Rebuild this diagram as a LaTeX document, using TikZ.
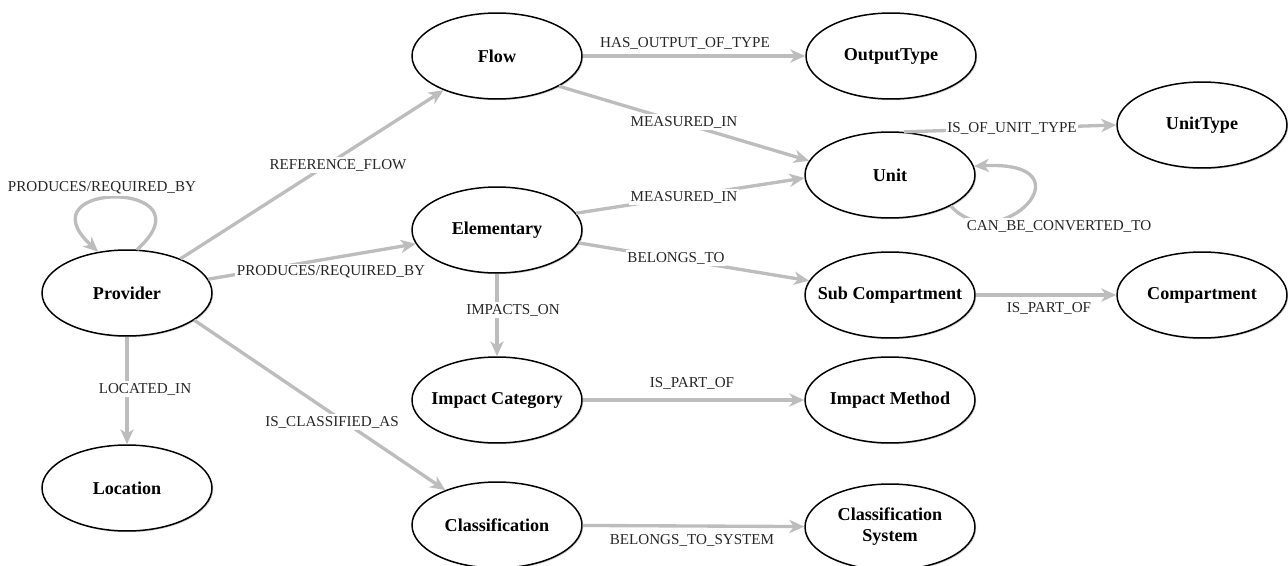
\documentclass[tikz,border=0pt]{standalone}
\usepackage{fontspec}
\setmainfont{Liberation Serif}
\usetikzlibrary{arrows.meta,shapes.geometric,shadows}
\tikzset{
	entnode/.style={ellipse, draw=black, line width=0.85pt, fill=white, minimum width=3.4cm, minimum height=1.72cm, inner xsep=-8pt, inner ysep=0pt, align=center, font=\fontsize{10.3}{12}\selectfont\bfseries, drop shadow={shadow xshift=0.7pt, shadow yshift=-0.7pt, opacity=0.3, fill=black!60}},
	reledge/.style={draw=black!26, line width=1.9pt, -{Stealth[length=8.5pt,width=7.5pt,inset=2.5pt]}},
	rellabel/.style={fill=white, inner sep=1pt, text=black!85, font=\fontsize{8.6}{10}\selectfont}
}

\begin{document}
\begin{tikzpicture}[x=0.02cm, y=-0.02cm]
	\useasboundingbox (0,0) rectangle (1288,565);
	
	\node[entnode] at (127,293) (Prov)    {Provider};
	\node[entnode] at (127,488) (Loc)     {Location};
	\node[entnode] at (497,56)  (Flow)    {Flow};
	\node[entnode] at (891,56)  (OType)   {OutputType};
	\node[entnode] at (890,175) (Unit)    {Unit};
	\node[entnode] at (1202,125) (UType)  {UnitType};
	\node[entnode] at (497,230) (Elem)    {Elementary};
	\node[entnode] at (890,295) (SubC)    {Sub Compartment};
	\node[entnode] at (1202,295) (Comp)   {Compartment};
	\node[entnode] at (497,400) (ICat)    {Impact Category};
	\node[entnode] at (890,400) (IMeth)   {Impact Method};
	\node[entnode] at (497,525) (Class)   {Classification};
	\node[entnode] at (890,527) (CSys)    {Classification\\System};
	
	\draw[reledge] (Prov.77) .. controls (215,180) and (20,180) .. (Prov.125);
	\draw[reledge] (Prov) -- (Flow);
	\draw[reledge] (Prov) -- (Elem);
	\draw[reledge] (Prov) -- (Loc);
	\draw[reledge] (Prov.-22) -- (Class.146);
	\draw[reledge] (Flow) -- (OType);
	\draw[reledge] (Flow.-26) -- (Unit.170);
	\draw[reledge] (Elem.12) -- (Unit.182);
	\draw[reledge] (Elem.-9) -- (SubC.170);
	\draw[reledge] (Elem) -- (ICat);
	\draw[reledge] (Unit.72) -- (UType.west);
	\draw[reledge] (Unit.-27) .. controls (1000,260) and (1095,160) .. (Unit.6);
	\draw[reledge] (SubC) -- (Comp);
	\draw[reledge] (ICat) -- (IMeth);
	\draw[reledge] (Class) -- (CSys);
	
	\node[rellabel] at (102,188) (l1)  {PRODUCES/REQUIRED\_BY};
	\node[rellabel] at (338,165) (l2)  {REFERENCE\_FLOW};
	\node[rellabel] at (331,272) (l3)  {PRODUCES/REQUIRED\_BY};
	\node[rellabel] at (145,389) (l4)  {LOCATED\_IN};
	\node[rellabel] at (332,422) (l5)  {IS\_CLASSIFIED\_AS};
	\node[rellabel] at (685,43)  (l6)  {HAS\_OUTPUT\_OF\_TYPE};
	\node[rellabel] at (684,122) (l7)  {MEASURED\_IN};
	\node[rellabel] at (684,197) (l8)  {MEASURED\_IN};
	\node[rellabel] at (676,258) (l9)  {BELONGS\_TO};
	\node[rellabel] at (513,310) (l10) {IMPACTS\_ON};
	\node[rellabel] at (1012,128) (l11) {IS\_OF\_UNIT\_TYPE};
	\node[rellabel] at (1059,226) (l12) {CAN\_BE\_CONVERTED\_TO};
	\node[rellabel] at (1049,308) (l13) {IS\_PART\_OF};
	\node[rellabel] at (692,383) (l14) {IS\_PART\_OF};
	\node[rellabel] at (692,540) (l15) {BELONGS\_TO\_SYSTEM};
\end{tikzpicture}
\end{document}
